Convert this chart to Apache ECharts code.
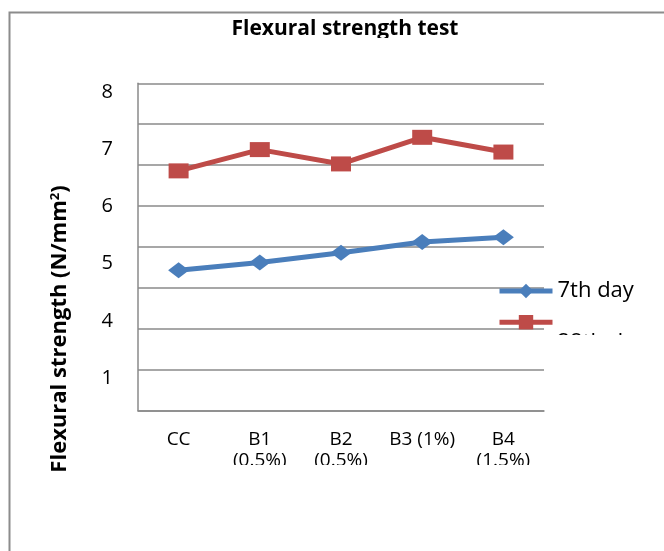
<!DOCTYPE html>
<html>
<head>
<meta charset="utf-8">
<script src="https://cdn.jsdelivr.net/npm/echarts@6/dist/echarts.min.js"></script>
<style>
  html, body { margin: 0; padding: 0; background: #fff; }
  #chart { width: 664px; height: 551px; }
</style>
</head>
<body>
<div id="chart"></div>
<script>
// Mix designations along the x axis
const categories = ['CC', 'B1\n(0.5%)', 'B2\n(0.5%)', 'B3 (1%)', 'B4\n(1.5%)'];
// Flexural strength, N/mm²
const day7 = [3.43, 3.62, 3.86, 4.12, 4.24];
const day28 = [5.86, 6.38, 6.03, 6.68, 6.32];
// Printed value-axis labels, bottom to top
const yTickLabels = ['1', '4', '5', '6', '7', '8'];
const seriesNames = ['7th day', '28th day'];

const FONT = '"Open Sans", Lato, sans-serif';
const GRID_COLOR = '#8a8a8a';

const chart = echarts.init(document.getElementById('chart'), null, { renderer: 'canvas' });

chart.setOption({
  animation: false,
  backgroundColor: '#ffffff',
  title: {
    text: 'Flexural strength test',
    left: 340,
    top: 14,
    textAlign: 'center',
    textStyle: { fontFamily: FONT, fontWeight: 'bold', fontSize: 21, color: '#000' }
  },
  grid: [
    { left: 138, right: 120, top: 83.3, bottom: 140.3, containLabel: false },
    { left: 138, right: 120, top: 63.4, bottom: 144.4, containLabel: false }
  ],
  xAxis: [
    {
      type: 'category',
      gridIndex: 0,
      data: categories,
      boundaryGap: true,
      axisLine: { show: true, lineStyle: { color: GRID_COLOR, width: 1.5 } },
      axisTick: { show: false },
      axisLabel: {
        interval: 0,
        fontFamily: FONT,
        fontSize: 19,
        lineHeight: 21,
        color: '#000',
        margin: 18
      }
    },
    { type: 'category', gridIndex: 1, data: categories, show: false }
  ],
  yAxis: [
    {
      type: 'value',
      gridIndex: 0,
      min: 0,
      max: 8,
      interval: 1,
      axisLine: { show: true, lineStyle: { color: GRID_COLOR, width: 1.5 } },
      axisTick: { show: false },
      axisLabel: { show: false },
      splitLine: { show: true, lineStyle: { color: GRID_COLOR, width: 1.5 } }
    },
    {
      type: 'category',
      gridIndex: 1,
      data: yTickLabels,
      boundaryGap: true,
      axisLine: { show: false },
      axisTick: { show: false },
      splitLine: { show: false },
      axisLabel: {
        fontFamily: FONT,
        fontSize: 20,
        color: '#000',
        margin: 25
      }
    }
  ],
  legend: [
    {
      data: [seriesNames[0]],
      left: 497,
      top: 280,
      itemWidth: 53,
      itemHeight: 18,
      padding: 0,
      lineStyle: { width: 5 },
      textStyle: { fontFamily: FONT, fontSize: 22, color: '#000' }
    },
    {
      data: [seriesNames[1]],
      left: 497,
      top: 315,
      itemWidth: 53,
      itemHeight: 18,
      padding: 0,
      lineStyle: { width: 5 },
      formatter: '{low|{name}}',
      textStyle: {
        fontFamily: FONT, fontSize: 22, color: '#000',
        rich: { low: { fontFamily: FONT, fontSize: 22, padding: [42, 0, 0, 0] } }
      }
    }
  ],
  series: [
    {
      name: seriesNames[0],
      type: 'line',
      xAxisIndex: 0,
      yAxisIndex: 0,
      data: day7,
      symbol: 'diamond',
      symbolSize: [21, 16],
      lineStyle: { color: '#4a7ebb', width: 5 },
      itemStyle: { color: '#4a7ebb' },
      z: 3
    },
    {
      name: seriesNames[1],
      type: 'line',
      xAxisIndex: 0,
      yAxisIndex: 0,
      data: day28,
      symbol: 'rect',
      symbolSize: [20, 15],
      lineStyle: { color: '#be4b48', width: 5 },
      itemStyle: { color: '#be4b48' },
      z: 3
    }
  ],
  graphic: [
    // outer chart frame (right and bottom edges fall outside the view)
    {
      type: 'rect',
      z: 50,
      silent: true,
      shape: { x: 9.5, y: 12.5, width: 700, height: 600 },
      style: { fill: 'none', stroke: '#8c8c8c', lineWidth: 2 }
    },
    // masks that crop the title, the wrapped category labels and the second legend entry
    {
      type: 'rect', z: 40, silent: true,
      shape: { x: 200, y: 38, width: 280, height: 14 },
      style: { fill: '#fff' }
    },
    {
      type: 'rect', z: 40, silent: true,
      shape: { x: 140, y: 465, width: 420, height: 20 },
      style: { fill: '#fff' }
    },
    {
      type: 'rect', z: 40, silent: true,
      shape: { x: 552, y: 335, width: 112, height: 30 },
      style: { fill: '#fff' }
    },
    // value-axis title
    {
      type: 'text',
      z: 60,
      silent: true,
      x: 60,
      y: 329,
      rotation: Math.PI / 2,
      style: {
        text: '{a|Flexural strength (N/mm}{s|2}{a|)}',
        align: 'center',
        verticalAlign: 'middle',
        rich: {
          a: { fontFamily: FONT, fontWeight: 'bold', fontSize: 22, fill: '#000' },
          s: { fontFamily: FONT, fontWeight: 'bold', fontSize: 13, fill: '#000', verticalAlign: 'top', padding: [0, 0, 10, 0] }
        }
      }
    }
  ]
});
</script>
</body>
</html>
